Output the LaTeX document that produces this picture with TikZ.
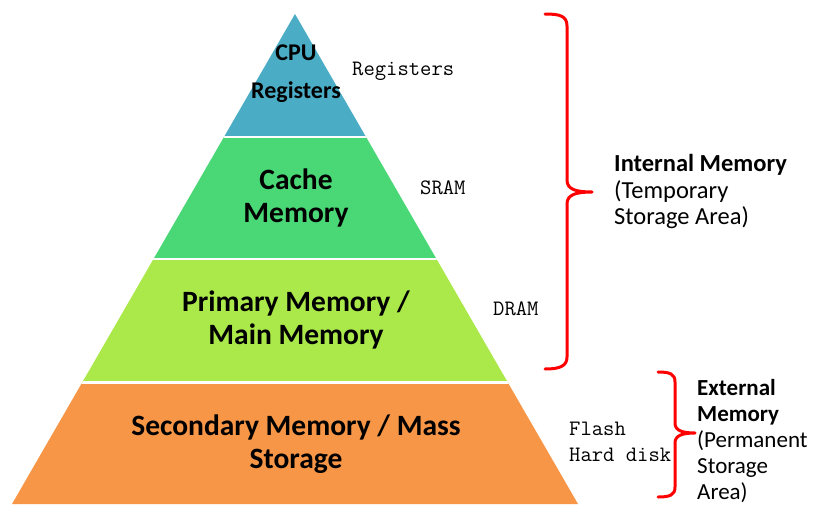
\documentclass[tikz,border=0pt]{standalone}
\usepackage{fontspec}
\setmainfont{Carlito}
\definecolor{cpublue}{HTML}{4BACC6}
\definecolor{cachegreen}{HTML}{4AD776}
\definecolor{primlime}{HTML}{ABE84A}
\definecolor{secorange}{HTML}{F79646}
\tikzset{
  layertext/.style={font=\fontsize{29.5}{33}\selectfont\bfseries, align=center, inner sep=0pt},
  sidetext/.style={font=\fontsize{22}{26}\ttfamily, align=left, anchor=west, inner sep=0pt},
  grouptext/.style={font=\fontsize{24.5}{26.5}\selectfont, align=left, anchor=west, inner sep=0pt},
  bracepath/.style={draw=red, line width=3pt, line cap=round, line join=round},
  gapline/.style={draw=white, line width=2.6pt}
}
\begin{document}
\begin{tikzpicture}[x=1pt,y=-1pt]
\useasboundingbox (0,0) rectangle (813,506);
% pyramid bands
\begin{scope}
  \clip (295,14) -- (578,504) -- (12,504) -- cycle;
  \fill[cpublue] (0,0) rectangle (813,137);
  \fill[cachegreen] (0,137) rectangle (813,259);
  \fill[primlime] (0,259) rectangle (813,382.5);
  \fill[secorange] (0,382.5) rectangle (813,510);
  \draw[gapline] (0,137) -- (813,137);
  \draw[gapline] (0,259) -- (813,259);
  \draw[gapline] (0,382.5) -- (813,382.5);
\end{scope}
% layer labels
\node[layertext, font=\fontsize{24}{38}\selectfont\bfseries] (cpu) at (296,74) {CPU\\Registers};
\node[layertext] (cache) at (296,198) {Cache\\Memory};
\node[layertext] (prim) at (296,320) {Primary Memory /\\Main Memory};
\node[layertext] (sec) at (296,444) {Secondary Memory / Mass\\Storage};
% side labels
\node[sidetext] (reg) at (352,71) {Registers};
\node[sidetext] (sram) at (420,188) {SRAM};
\node[sidetext] (dram) at (493,309) {DRAM};
\node[sidetext] (flash) at (569,442) {Flash\\Hard disk};
% braces
\draw[bracepath] (545,14) .. controls (560,14) and (567,16) .. (567,26) -- (567,180)
  .. controls (567,189) and (575,192) .. (592,192)
  .. controls (575,192) and (567,195) .. (567,204) -- (567,357)
  .. controls (567,366) and (560,369) .. (545,369);
\draw[bracepath] (658,372) .. controls (670,372) and (675,374) .. (675,382) -- (675,423)
  .. controls (675,430) and (681,433) .. (695,433)
  .. controls (681,433) and (675,436) .. (675,443) -- (675,487)
  .. controls (675,495) and (670,497) .. (658,497);
% group labels
\node[grouptext] (internal) at (614,192) {\textbf{Internal Memory}\\(Temporary\\Storage Area)};
\node[grouptext, font=\fontsize{23}{26}\selectfont] (external) at (697,441) {\textbf{External}\\\textbf{Memory}\\(Permanent\\Storage\\Area)};
\end{tikzpicture}
\end{document}
